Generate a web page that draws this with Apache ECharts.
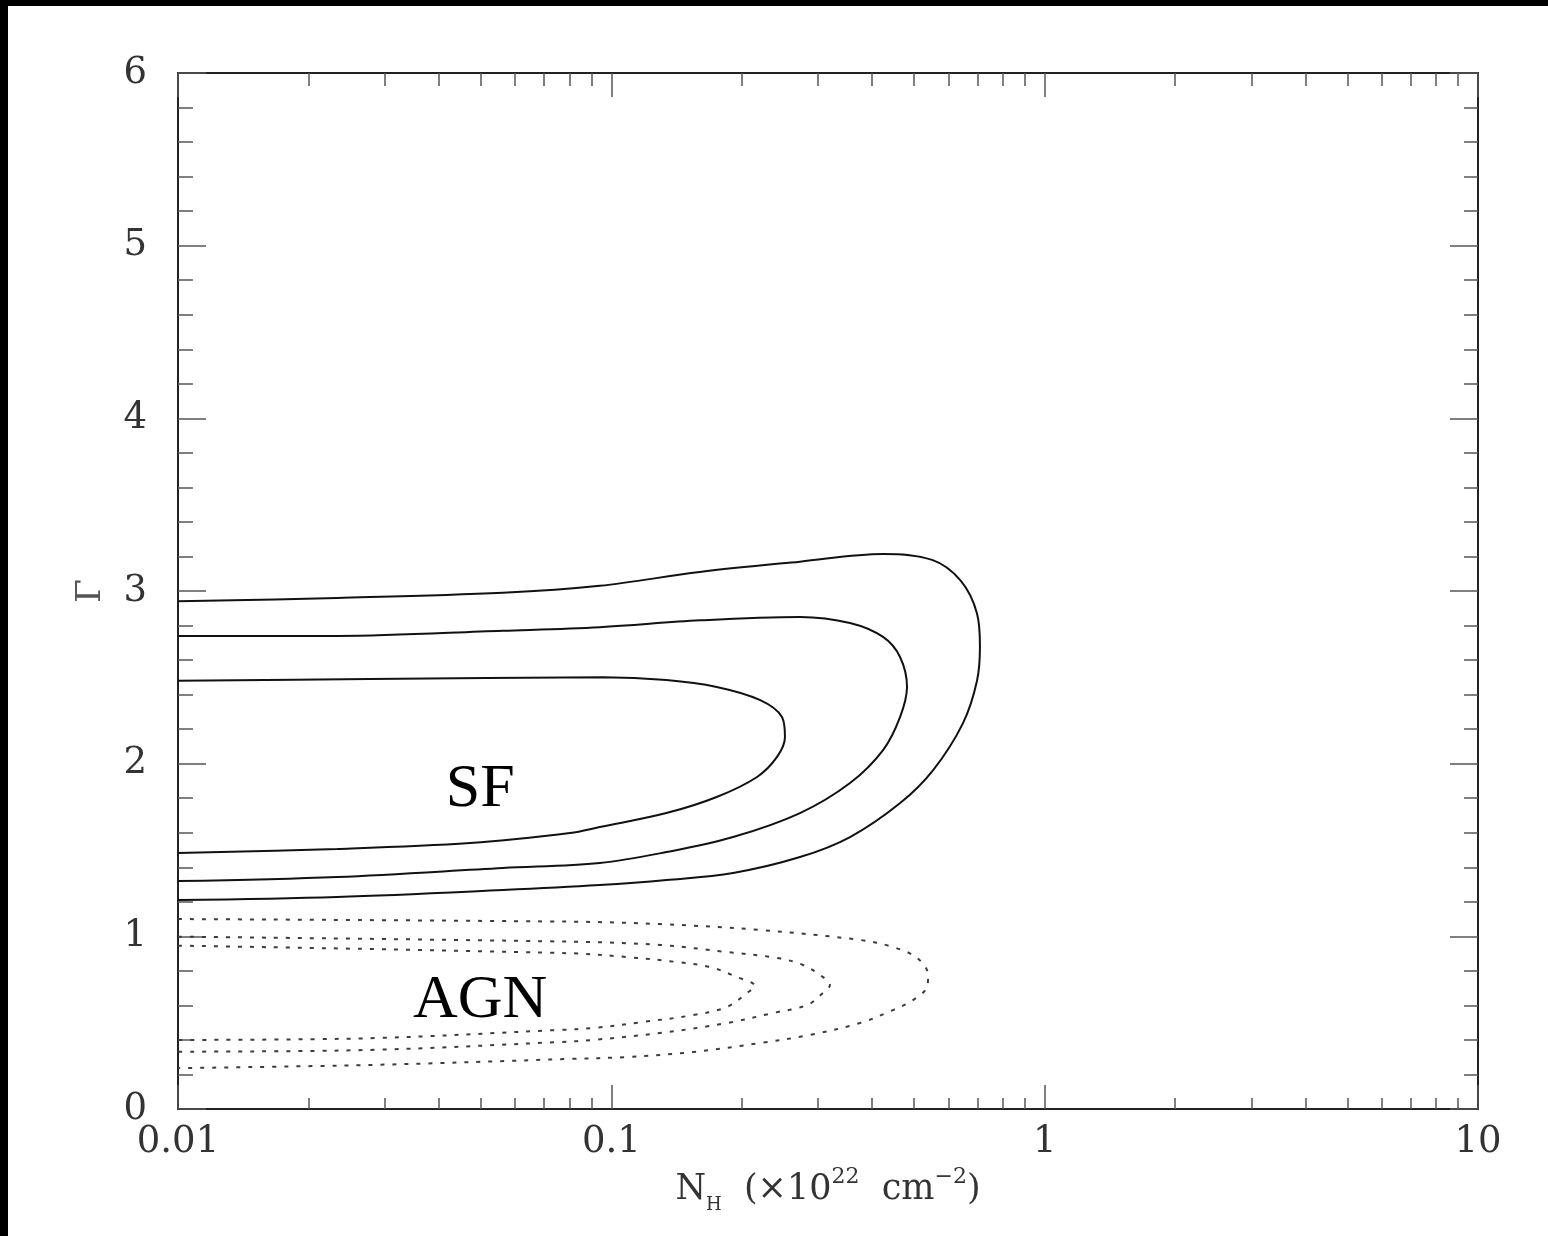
<!DOCTYPE html>
<html>
<head>
<meta charset="utf-8">
<script src="https://cdn.jsdelivr.net/npm/echarts@6/dist/echarts.min.js"></script>
<style>
html, body { margin: 0; padding: 0; background: #000; width: 1548px; height: 1236px; overflow: hidden; }
#chart { position: absolute; left: 8px; top: 6px; width: 1540px; height: 1230px; background: #fff; }
</style>
</head>
<body>
<div id="chart"></div>
<script>
// ---- data ----
const xTickValues = [0.01, 0.1, 1, 10];
const xTickLabels = ['0.01', '0.1', '1', '10'];
const xMinorTicks = [0.02, 0.03, 0.04, 0.05, 0.06, 0.07, 0.08, 0.09,
                     0.2, 0.3, 0.4, 0.5, 0.6, 0.7, 0.8, 0.9,
                     2, 3, 4, 5, 6, 7, 8, 9];
const yTickValues = [0, 1, 2, 3, 4, 5, 6];

// SF confidence contours (solid)
const sfInner = [[0.01,2.48],[0.0277,2.49],[0.0957,2.50],[0.134,2.484],[0.175,2.444],[0.22,2.369],[0.2476,2.27],[0.2516,2.154],[0.2412,2.039],[0.2169,1.923],[0.175,1.807],[0.134,1.714],[0.094,1.633],[0.0803,1.598],[0.0472,1.54],[0.0233,1.506],[0.01,1.483]];
const sfMiddle = [[0.01,2.74],[0.0233,2.74],[0.0562,2.77],[0.094,2.79],[0.16,2.83],[0.2725,2.85],[0.3555,2.815],[0.4237,2.734],[0.4637,2.618],[0.4812,2.444],[0.4637,2.27],[0.4237,2.079],[0.3555,1.888],[0.2725,1.714],[0.191,1.575],[0.134,1.488],[0.094,1.425],[0.0562,1.396],[0.0233,1.344],[0.01,1.32]];
const sfOuter = [[0.01,2.94],[0.0233,2.96],[0.0562,2.99],[0.094,3.03],[0.16,3.11],[0.2725,3.17],[0.4237,3.214],[0.55,3.18],[0.64,3.06],[0.698,2.87],[0.709,2.68],[0.698,2.48],[0.648,2.235],[0.553,1.963],[0.464,1.772],[0.3555,1.575],[0.2725,1.459],[0.191,1.367],[0.134,1.326],[0.094,1.297],[0.0562,1.268],[0.0233,1.228],[0.01,1.21]];

// AGN confidence contours (dotted)
const agnInner = [[0.01,0.946],[0.0803,0.902],[0.1087,0.88],[0.1418,0.851],[0.169,0.822],[0.195,0.764],[0.2145,0.712],[0.2056,0.672],[0.1849,0.591],[0.1544,0.544],[0.1184,0.504],[0.0907,0.469],[0.0761,0.458],[0.0277,0.41],[0.01,0.40]];
const agnMiddle = [[0.01,0.998],[0.0803,0.969],[0.1295,0.95],[0.1849,0.909],[0.2412,0.875],[0.2769,0.834],[0.3079,0.764],[0.3195,0.718],[0.3079,0.672],[0.2829,0.602],[0.2361,0.556],[0.1849,0.498],[0.1295,0.44],[0.0907,0.40],[0.0761,0.388],[0.0277,0.342],[0.01,0.332]];
const agnOuter = [[0.01,1.10],[0.0803,1.085],[0.1295,1.071],[0.2204,1.037],[0.3748,0.979],[0.4467,0.938],[0.5076,0.875],[0.5382,0.776],[0.5353,0.707],[0.4968,0.631],[0.4467,0.573],[0.3748,0.498],[0.2873,0.429],[0.2204,0.382],[0.1544,0.33],[0.1087,0.301],[0.0803,0.29],[0.0277,0.255],[0.01,0.237]];

// region labels
const regionLabels = [
  { name: 'SF', value: [0.0498, 1.847] },
  { name: 'AGN', value: [0.0498, 0.625] }
];

// ---- chart ----
const chart = echarts.init(document.getElementById('chart'), null, { renderer: 'canvas' });

const tickColor = '#555';
const axisColor = '#222';
const labelFont = 'DejaVu Serif';

function xLabel(v) {
  const i = xTickValues.findIndex(t => Math.abs(Math.log10(t) - Math.log10(v)) < 1e-6);
  return i >= 0 ? xTickLabels[i] : '';
}

function logAxis(position, opts) {
  return Object.assign({
    type: 'log', logBase: 10, min: 0.01, max: 10, position: position, gridIndex: 0,
    splitLine: { show: false },
    axisLine: { show: true, lineStyle: { color: axisColor, width: 2 } },
    axisTick: { show: true, inside: true, length: 24, lineStyle: { color: tickColor, width: 1.5 } },
    axisLabel: { show: false },
    minorTick: { show: false }
  }, opts);
}

const solidStyle = { color: '#111', width: 2 };
const dotStyle = { color: '#3c3c3c', width: 2, type: [4, 8] };

function contour(data, style) {
  return {
    type: 'line', xAxisIndex: 0, yAxisIndex: 0, data: data,
    smooth: 0.35, showSymbol: false, symbol: 'none',
    lineStyle: style, silent: true, animation: false
  };
}

const option = {
  animation: false,
  backgroundColor: '#fff',
  grid: { left: 170, right: 70, top: 67, bottom: 127, containLabel: false },
  xAxis: [
    logAxis('bottom', {
      axisLabel: {
        show: true, margin: 15, formatter: xLabel,
        fontFamily: labelFont, fontSize: 37, color: '#333'
      },
      name: '{n|N}{sub|H}{n|  (×10}{sup|22}{n|  cm}{sup|−2}{n|)}',
      nameLocation: 'middle', nameGap: 54,
      nameTextStyle: {
        rich: {
          n: { fontFamily: labelFont, fontSize: 35, color: '#333', lineHeight: 48, verticalAlign: 'middle' },
          sub: { fontFamily: labelFont, fontSize: 18, color: '#333', lineHeight: 18, verticalAlign: 'bottom' },
          sup: { fontFamily: labelFont, fontSize: 22, color: '#333', lineHeight: 40, verticalAlign: 'top' }
        }
      }
    }),
    logAxis('bottom', {
      axisLine: { show: false },
      axisTick: { show: true, inside: true, length: 11, customValues: xMinorTicks, lineStyle: { color: tickColor, width: 1.5 } }
    }),
    logAxis('top', {}),
    logAxis('top', {
      axisLine: { show: false },
      axisTick: { show: true, inside: true, length: 13, customValues: xMinorTicks, lineStyle: { color: tickColor, width: 1.5 } }
    })
  ],
  yAxis: [
    {
      type: 'value', min: 0, max: 6, interval: 1, position: 'left',
      splitLine: { show: false },
      axisLine: { show: true, lineStyle: { color: axisColor, width: 2 } },
      axisTick: { show: true, inside: true, length: 28, lineStyle: { color: tickColor, width: 1.5 } },
      minorTick: { show: true, splitNumber: 5, length: 15, lineStyle: { color: tickColor, width: 1.5 } },
      axisLabel: { show: true, margin: 31, fontFamily: labelFont, fontSize: 37, color: '#333' },
      name: 'Γ', nameLocation: 'middle', nameGap: 70,
      nameTextStyle: { fontFamily: labelFont, fontSize: 34, color: '#555' }
    },
    {
      type: 'value', min: 0, max: 6, interval: 1, position: 'right',
      splitLine: { show: false },
      axisLine: { show: true, lineStyle: { color: axisColor, width: 2 } },
      axisTick: { show: true, inside: true, length: 28, lineStyle: { color: tickColor, width: 1.5 } },
      minorTick: { show: true, splitNumber: 5, length: 14, lineStyle: { color: tickColor, width: 1.5 } },
      axisLabel: { show: false }
    }
  ],
  series: [
    contour(sfInner, solidStyle),
    contour(sfMiddle, solidStyle),
    contour(sfOuter, solidStyle),
    contour(agnInner, dotStyle),
    contour(agnMiddle, dotStyle),
    contour(agnOuter, dotStyle),
    {
      type: 'scatter', xAxisIndex: 0, yAxisIndex: 0, data: regionLabels,
      symbolSize: 1, itemStyle: { color: 'rgba(0,0,0,0)' }, silent: true,
      label: {
        show: true, position: 'inside', formatter: '{b}',
        fontFamily: 'Liberation Serif', fontSize: 62, color: '#000',
        textBorderWidth: 0, opacity: 1
      }
    }
  ]
};

chart.setOption(option);
</script>
</body>
</html>
